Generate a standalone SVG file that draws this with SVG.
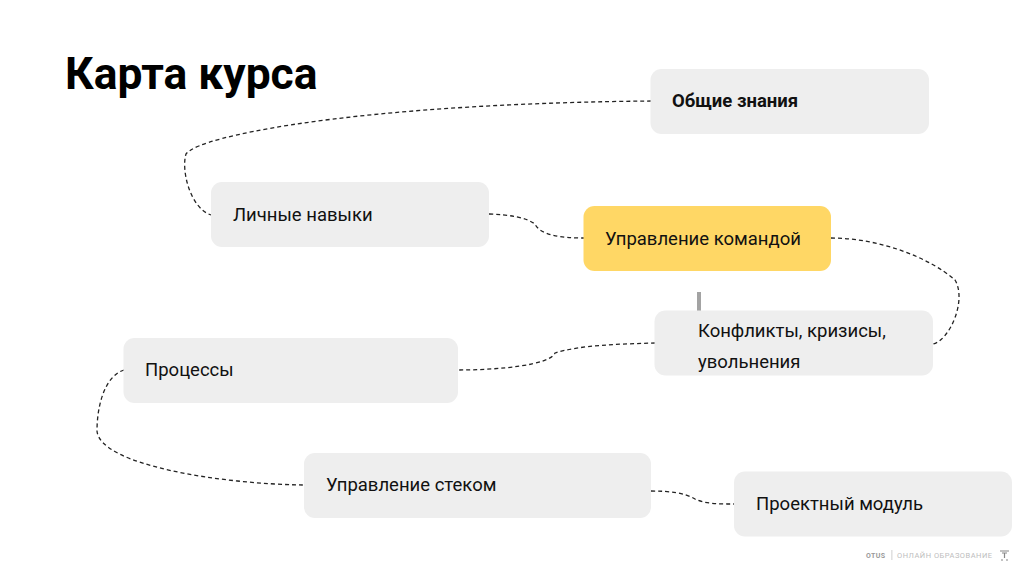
<svg xmlns="http://www.w3.org/2000/svg" width="1024" height="574" viewBox="0 0 1024 574">
<style>
text{font-family:Roboto,"Liberation Sans",sans-serif;fill:#111}
.n{fill:#eeeeee}
.l{font-size:18.500px}
.c path{fill:none;stroke:#222;stroke-width:1.3;stroke-dasharray:4 3}
</style>
<rect width="1024" height="574" fill="#fff"/>
<text id="title" x="65" y="89" font-size="44.400" font-weight="700" style="fill:#000">Карта курса</text>
<g class="c" id="connectors">
<path d="M651 101C540 102 400 108 290 125C240 133 195 143 186 154C181 170 190 208 211 215"/>
<path d="M489 214C510 215 525 217 535 224C540 235 560 238 584 238"/>
<path d="M831 238C880 238 930 258 955 280C967 300 950 340 933 344"/>
<path d="M655 343C620 344 580 345 555 353C550 365 500 370 458 370"/>
<path d="M124 370C105 376 97 405 97 431C100 465 220 484 304 485"/>
<path d="M651 491C670 491 685 493 695 499C705 504 720 504 734 504"/>
</g>
<g id="n1"><rect class="n" x="650.500" y="69" width="278.500" height="65" rx="11"/><text x="672" y="107" font-weight="700" font-size="18.500">Общие знания</text></g>
<g id="n2"><rect class="n" x="211" y="182" width="278" height="65" rx="11"/><text class="l" x="233" y="221">Личные навыки</text></g>
<g id="n3"><rect x="583.500" y="206" width="247.500" height="65" rx="11" fill="#ffd765"/><text class="l" x="605" y="245">Управление командой</text></g>
<g id="n4"><rect x="697" y="292" width="4" height="19" fill="#a3a3a3"/><rect class="n" x="654.500" y="310.500" width="278.500" height="65" rx="11"/><text class="l" x="698" y="337">Конфликты, кризисы,</text><text class="l" x="698" y="368">увольнения</text></g>
<g id="n5"><rect class="n" x="123.500" y="338" width="334.500" height="65" rx="11"/><text class="l" x="145" y="376">Процессы</text></g>
<g id="n6"><rect class="n" x="304" y="453" width="347" height="65" rx="11"/><text class="l" x="326" y="491">Управление стеком</text></g>
<g id="n7"><rect class="n" x="734" y="471.500" width="278" height="65" rx="11"/><text class="l" x="756" y="510">Проектный модуль</text></g>
<g id="footer"><text x="866" y="557.500" font-size="7" font-weight="700" letter-spacing="0.400" style="fill:#999">OTUS</text><rect x="891.500" y="550" width="0.800" height="10" fill="#c4c4c4"/><text x="897" y="557.500" font-size="7.500" letter-spacing="0.500" style="fill:#bdbdbd">ОНЛАЙН ОБРАЗОВАНИЕ</text><path d="M1000 551h9M1002 553h5M1004.500 553v5M1001 560h2M1006 560h2" stroke="#888" stroke-width="1.200" fill="none"/></g>
</svg>
